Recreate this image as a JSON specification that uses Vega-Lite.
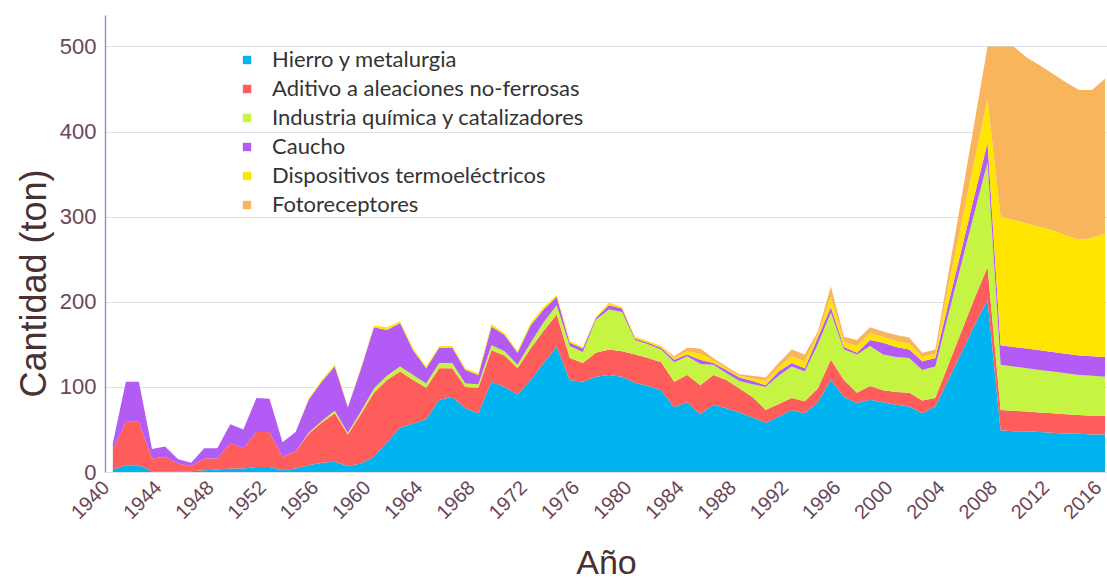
{
  "$schema": "https://vega.github.io/schema/vega-lite/v6.json",
  "autosize": {"type": "none"},
  "width": 1002,
  "height": 457,
  "padding": {"left": 105, "top": 15, "right": 0, "bottom": 112},
  "background": "white",
  "config": {"view": {"stroke": null}},
  "data": {"values": [
    {"y":1940,"h":3,"a":23,"q":0,"c":8,"t":0,"f":0},
    {"y":1941,"h":8,"a":51,"q":0,"c":47,"t":0,"f":0},
    {"y":1942,"h":8,"a":51,"q":0,"c":47,"t":0,"f":0},
    {"y":1943,"h":1,"a":15,"q":0,"c":11,"t":0,"f":0},
    {"y":1944,"h":1,"a":17,"q":0,"c":12,"t":0,"f":0},
    {"y":1945,"h":1,"a":9,"q":0,"c":5,"t":0,"f":0},
    {"y":1946,"h":1,"a":6,"q":0,"c":4,"t":0,"f":0},
    {"y":1947,"h":2,"a":14,"q":0,"c":12,"t":0,"f":0},
    {"y":1948,"h":3,"a":13,"q":0,"c":12,"t":0,"f":0},
    {"y":1949,"h":4,"a":30,"q":0,"c":22,"t":0,"f":0},
    {"y":1950,"h":4,"a":24,"q":0,"c":22,"t":0,"f":0},
    {"y":1951,"h":6,"a":41,"q":0,"c":40,"t":0,"f":0},
    {"y":1952,"h":6,"a":41,"q":0,"c":39,"t":0,"f":0},
    {"y":1953,"h":2,"a":16,"q":0,"c":17,"t":0,"f":0},
    {"y":1954,"h":4,"a":20,"q":0,"c":23,"t":0,"f":0},
    {"y":1955,"h":8,"a":37,"q":1,"c":39,"t":1,"f":0},
    {"y":1956,"h":11,"a":47,"q":2,"c":46,"t":2,"f":0},
    {"y":1957,"h":12,"a":57,"q":3,"c":52,"t":2,"f":0},
    {"y":1958,"h":7,"a":37,"q":2,"c":30,"t":1,"f":0},
    {"y":1959,"h":10,"a":58,"q":3,"c":50,"t":1,"f":0},
    {"y":1960,"h":18,"a":75,"q":5,"c":72,"t":2,"f":0},
    {"y":1961,"h":35,"a":73,"q":5,"c":54,"t":3,"f":0},
    {"y":1962,"h":52,"a":66,"q":6,"c":51,"t":2,"f":0},
    {"y":1963,"h":57,"a":51,"q":6,"c":29,"t":2,"f":0},
    {"y":1964,"h":62,"a":37,"q":5,"c":18,"t":2,"f":0},
    {"y":1965,"h":85,"a":37,"q":6,"c":18,"t":2,"f":0},
    {"y":1966,"h":88,"a":34,"q":6,"c":18,"t":2,"f":0},
    {"y":1967,"h":75,"a":25,"q":4,"c":16,"t":2,"f":0},
    {"y":1968,"h":69,"a":30,"q":4,"c":11,"t":2,"f":0},
    {"y":1969,"h":106,"a":37,"q":6,"c":22,"t":3,"f":0},
    {"y":1970,"h":100,"a":37,"q":5,"c":19,"t":2,"f":0},
    {"y":1971,"h":91,"a":31,"q":4,"c":14,"t":2,"f":0},
    {"y":1972,"h":108,"a":37,"q":7,"c":20,"t":3,"f":0},
    {"y":1973,"h":128,"a":38,"q":10,"c":15,"t":3,"f":0},
    {"y":1974,"h":147,"a":38,"q":11,"c":10,"t":2,"f":0},
    {"y":1975,"h":108,"a":26,"q":14,"c":4,"t":2,"f":0},
    {"y":1976,"h":106,"a":22,"q":13,"c":4,"t":2,"f":0},
    {"y":1977,"h":112,"a":28,"q":39,"c":2,"t":1,"f":0},
    {"y":1978,"h":114,"a":30,"q":47,"c":5,"t":3,"f":0},
    {"y":1979,"h":112,"a":30,"q":46,"c":4,"t":2,"f":0},
    {"y":1980,"h":105,"a":33,"q":17,"c":2,"t":2,"f":0},
    {"y":1981,"h":101,"a":33,"q":16,"c":2,"t":2,"f":0},
    {"y":1982,"h":96,"a":33,"q":15,"c":2,"t":2,"f":0},
    {"y":1983,"h":76,"a":30,"q":23,"c":3,"t":2,"f":2},
    {"y":1984,"h":82,"a":32,"q":22,"c":2,"t":4,"f":4},
    {"y":1985,"h":68,"a":34,"q":25,"c":5,"t":7,"f":6},
    {"y":1986,"h":79,"a":35,"q":12,"c":2,"t":3,"f":3},
    {"y":1987,"h":75,"a":33,"q":8,"c":4,"t":2,"f":2},
    {"y":1988,"h":70,"a":28,"q":9,"c":4,"t":2,"f":2},
    {"y":1989,"h":64,"a":24,"q":15,"c":4,"t":3,"f":3},
    {"y":1990,"h":58,"a":15,"q":27,"c":2,"t":5,"f":4},
    {"y":1991,"h":65,"a":15,"q":33,"c":5,"t":5,"f":5},
    {"y":1992,"h":73,"a":14,"q":37,"c":4,"t":8,"f":8},
    {"y":1993,"h":69,"a":14,"q":35,"c":4,"t":8,"f":8},
    {"y":1994,"h":82,"a":16,"q":52,"c":8,"t":4,"f":3},
    {"y":1995,"h":108,"a":24,"q":55,"c":7,"t":12,"f":12},
    {"y":1996,"h":88,"a":20,"q":36,"c":3,"t":6,"f":6},
    {"y":1997,"h":81,"a":12,"q":45,"c":2,"t":8,"f":7},
    {"y":1998,"h":85,"a":16,"q":47,"c":7,"t":8,"f":7},
    {"y":1999,"h":82,"a":14,"q":42,"c":14,"t":7,"f":6},
    {"y":2000,"h":79,"a":15,"q":41,"c":12,"t":7,"f":7},
    {"y":2001,"h":77,"a":16,"q":41,"c":10,"t":7,"f":7},
    {"y":2002,"h":69,"a":15,"q":36,"c":10,"t":5,"f":5},
    {"y":2003,"h":77,"a":10,"q":37,"c":10,"t":5,"f":5},
    {"y":2004,"h":108,"a":18,"q":59,"c":13,"t":20,"f":15},
    {"y":2005,"h":140,"a":25,"q":80,"c":16,"t":31,"f":30},
    {"y":2006,"h":172,"a":32,"q":101,"c":20,"t":41,"f":45},
    {"y":2007,"h":202,"a":39,"q":123,"c":23,"t":51,"f":62},
    {"y":2008,"h":49,"a":24,"q":53,"c":23,"t":151,"f":200},
    {"y":2009,"h":48,"a":24,"q":52,"c":23,"t":149,"f":204},
    {"y":2010,"h":48,"a":23,"q":51,"c":23,"t":147,"f":195},
    {"y":2011,"h":47,"a":23,"q":50,"c":23,"t":145,"f":190},
    {"y":2012,"h":46,"a":23,"q":49,"c":23,"t":143,"f":184},
    {"y":2013,"h":45,"a":23,"q":48,"c":23,"t":139,"f":180},
    {"y":2014,"h":45,"a":22,"q":47,"c":23,"t":136,"f":176},
    {"y":2015,"h":44,"a":22,"q":47,"c":23,"t":139,"f":174},
    {"y":2016,"h":44,"a":22,"q":46,"c":23,"t":145,"f":182}
  ]},
  "transform": [
    {"fold": ["h","a","q","c","t","f"], "as": ["k","v"]},
    {"calculate": "indexof(['h','a','q','c','t','f'], datum.k)", "as": "o"}
  ],
  "mark": {"type": "area", "interpolate": "linear", "opacity": 1},
  "encoding": {
    "x": {
      "field": "y", "type": "quantitative",
      "scale": {"domain": [1939.4, 2016.15], "nice": false, "zero": false},
      "axis": {
        "title": "Año",
        "values": [1940,1944,1948,1952,1956,1960,1964,1968,1972,1976,1980,1984,1988,1992,1996,2000,2004,2008,2012,2016],
        "format": "d",
        "labelAngle": -45,
        "labelAlign": "right",
        "labelBaseline": "top",
        "labelFont": "Liberation Sans",
        "labelFontSize": 20,
        "labelColor": "#6a4658",
        "labelPadding": 5,
        "labelOffset": -14,
        "labelOverlap": false,
        "labelFlush": false,
        "labelBound": false,
        "ticks": false,
        "grid": false,
        "domain": false,
        "titleFont": "Liberation Sans",
        "titleFontSize": 34,
        "titleFontWeight": "normal",
        "titleColor": "#4a3030",
        "titlePadding": 24
      }
    },
    "y": {
      "field": "v", "type": "quantitative", "stack": "zero",
      "scale": {"domain": [0, 537], "nice": false},
      "axis": {
        "title": "Cantidad (ton)",
        "values": [0,100,200,300,400,500],
        "labelFont": "Liberation Sans",
        "labelFontSize": 22,
        "labelColor": "#6a4658",
        "labelPadding": 9,
        "ticks": false,
        "grid": true,
        "gridColor": "#dfe0ec",
        "gridWidth": 1,
        "domain": true,
        "domainColor": "#8a98cc",
        "domainWidth": 1.5,
        "titleFont": "Liberation Sans",
        "titleFontSize": 36,
        "titleFontWeight": "normal",
        "titleColor": "#4a3030",
        "titlePadding": 6,
        "titleY": 268
      }
    },
    "color": {
      "field": "k", "type": "nominal",
      "scale": {
        "domain": ["h","a","q","c","t","f"],
        "range": ["#00b4f0","#ff5c5c","#c5f542","#b35cf5","#ffe500","#f8b55c"]
      },
      "legend": {
        "title": null,
        "orient": "none",
        "legendX": 131,
        "legendY": 34,
        "symbolType": "square",
        "symbolSize": 70,
        "symbolStrokeWidth": 0,
        "labelFont": "Lato",
        "labelFontSize": 22,
        "labelLimit": 0,
        "labelColor": "#333333",
        "labelOffset": 14,
        "rowPadding": 7,
        "padding": 0,
        "labelExpr": "datum.label == 'h' ? 'Hierro y metalurgia' : datum.label == 'a' ? 'Aditivo a aleaciones no-ferrosas' : datum.label == 'q' ? 'Industria química y catalizadores' : datum.label == 'c' ? 'Caucho' : datum.label == 't' ? 'Dispositivos termoeléctricos' : 'Fotoreceptores'"
      }
    },
    "order": {"field": "o", "type": "quantitative", "sort": "ascending"}
  }
}
